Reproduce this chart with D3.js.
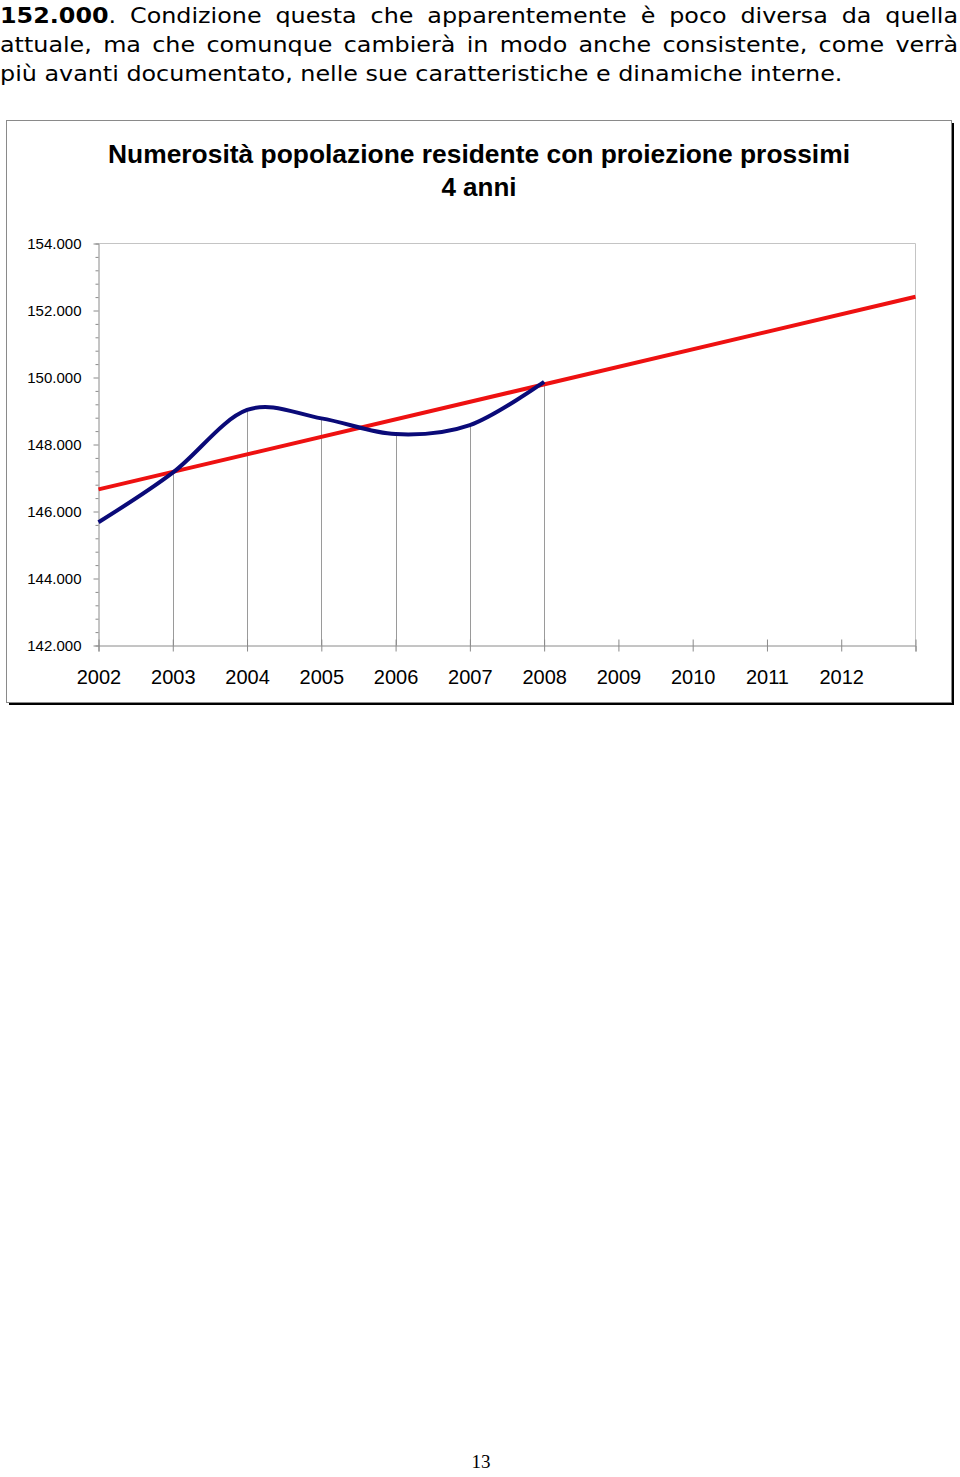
<!DOCTYPE html>
<html><head><meta charset="utf-8">
<script src="https://cdn.jsdelivr.net/npm/d3@7"></script>
<style>html,body{margin:0;padding:0;background:#fff;}svg{display:block;}</style>
</head><body>
<script>
// ---- data ----
const paragraphLines = [
  ["152.000", ". Condizione questa che apparentemente è poco diversa da quella"],
  ["", "attuale, ma che comunque cambierà in modo anche consistente, come verrà"],
  ["", "più avanti documentato, nelle sue caratteristiche e dinamiche interne."]
];
const titleLines = ["Numerosità popolazione residente con proiezione prossimi", "4 anni"];
const years = [2002, 2003, 2004, 2005, 2006, 2007, 2008];
const population = [145680, 147160, 149030, 148780, 148310, 148580, 149870];
const trendYears = [2002, 2013];
const trendValues = [146660, 152410];
const xTickYears = [2002, 2003, 2004, 2005, 2006, 2007, 2008, 2009, 2010, 2011, 2012, 2013];
const xTickLabels = ["2002", "2003", "2004", "2005", "2006", "2007", "2008", "2009", "2010", "2011", "2012", ""];
const yTicks = [142000, 144000, 146000, 148000, 150000, 152000, 154000];
const pageNumber = "13";

// ---- layout ----
const W = 960, H = 1477;
const svg = d3.select("body").append("svg").attr("width", W).attr("height", H);
svg.append("rect").attr("width", W).attr("height", H).attr("fill", "#fff");

// paragraph (Verdana-like, horizontally widened DejaVu Sans)
const pFont = "Verdana, 'DejaVu Sans', sans-serif";
const baselines = [23, 52, 81];
const pg = svg.append("g");
const texts = paragraphLines.map((ln, i) => {
  const t = pg.append("text").attr("x", 0).attr("y", baselines[i])
    .attr("font-family", pFont).attr("font-size", 21).attr("fill", "#000");
  if (ln[0]) t.append("tspan").attr("font-weight", "bold").text(ln[0]);
  t.append("tspan").text(ln[1]);
  return t;
});
const sx = 843 / texts[2].node().getComputedTextLength();
pg.attr("transform", `scale(${sx},1)`);
texts.forEach((t, i) => {
  if (i < 2) {
    const ln = paragraphLines[i];
    const nat = t.node().getComputedTextLength();
    const spaces = (ln[0] + ln[1]).split(" ").length - 1;
    t.attr("word-spacing", (958 / sx - nat) / spaces);
  }
});

// chart box with shadow
const bx = 6, by = 120, bw = 945, bh = 582;
svg.append("rect").attr("x", bx + 3).attr("y", by + 3).attr("width", bw).attr("height", bh).attr("fill", "#000");
svg.append("rect").attr("x", bx + 0.5).attr("y", by + 0.5).attr("width", bw).attr("height", bh)
  .attr("fill", "#fff").attr("stroke", "#8a8a8a").attr("stroke-width", 1);

// title
const tFont = "'Liberation Sans', Arial, sans-serif";
svg.append("text").attr("x", 479).attr("y", 163).attr("text-anchor", "middle")
  .attr("font-family", tFont).attr("font-weight", "bold").attr("font-size", 26)
  .attr("textLength", 742).attr("lengthAdjust", "spacingAndGlyphs").text(titleLines[0]);
svg.append("text").attr("x", 479).attr("y", 196).attr("text-anchor", "middle")
  .attr("font-family", tFont).attr("font-weight", "bold").attr("font-size", 26).text(titleLines[1]);

// scales
const x = d3.scaleLinear().domain([2002, 2013]).range([98.5, 915.5]);
const y = d3.scaleLinear().domain([142000, 154000]).range([645.5, 243.5]);
const loc = d3.formatLocale({decimal: ",", thousands: ".", grouping: [3], currency: ["", ""]});
const fmt = loc.format(",");

// plot border (top/right)
svg.append("path").attr("d", `M${x(2002)},${y(154000)}H${x(2013)}V${y(142000)}`)
  .attr("fill", "none").attr("stroke", "#c4c4c4").attr("stroke-width", 1);

// drop lines
svg.append("g").selectAll("line").data(years.slice(1)).join("line")
  .attr("x1", d => Math.round(x(d)) + 0.5).attr("x2", d => Math.round(x(d)) + 0.5)
  .attr("y1", (d, i) => y(population[i + 1])).attr("y2", y(142000))
  .attr("stroke", "#9a9a9a").attr("stroke-width", 1);

// y axis
const yAxis = d3.axisLeft(y).tickValues(d3.range(142000, 154001, 400)).tickSize(3)
  .tickFormat(d => yTicks.includes(d) ? fmt(d) : "");
const gy = svg.append("g").attr("transform", `translate(${x(2002)},0)`).call(yAxis);
gy.select(".domain").attr("stroke", "#8a8a8a");
gy.selectAll(".tick line").attr("stroke", "#8a8a8a").attr("x2", d => yTicks.includes(d) ? -5 : -3);
gy.selectAll(".tick text").attr("x", -17).attr("font-family", tFont).attr("font-size", 15).attr("fill", "#000");

// x axis
const xAxis = d3.axisBottom(x).tickValues(xTickYears).tickSize(6)
  .tickFormat((d, i) => xTickLabels[i]);
const gx = svg.append("g").attr("transform", `translate(0,${y(142000)})`).call(xAxis);
gx.select(".domain").attr("stroke", "#8a8a8a");
gx.selectAll(".tick line").attr("stroke", "#8a8a8a").attr("y1", -6).attr("y2", 6);
gx.selectAll(".tick text").attr("y", 24).attr("dy", "0.71em").attr("font-family", tFont)
  .attr("font-size", 20).attr("fill", "#000");

// trend line
svg.append("path").datum(trendYears.map((d, i) => [d, trendValues[i]]))
  .attr("d", d3.line().x(d => x(d[0])).y(d => y(d[1])))
  .attr("fill", "none").attr("stroke", "#ee1111").attr("stroke-width", 4);

// population line
svg.append("path").datum(years.map((d, i) => [d, population[i]]))
  .attr("d", d3.line().x(d => x(d[0])).y(d => y(d[1])).curve(d3.curveCardinal.tension(0)))
  .attr("fill", "none").attr("stroke", "#0a0a78").attr("stroke-width", 4);

// page number
svg.append("text").attr("x", 481).attr("y", 1468).attr("text-anchor", "middle")
  .attr("font-family", "'Liberation Serif', 'Times New Roman', serif").attr("font-size", 19)
  .attr("fill", "#000").text(pageNumber);
</script>
</body></html>
